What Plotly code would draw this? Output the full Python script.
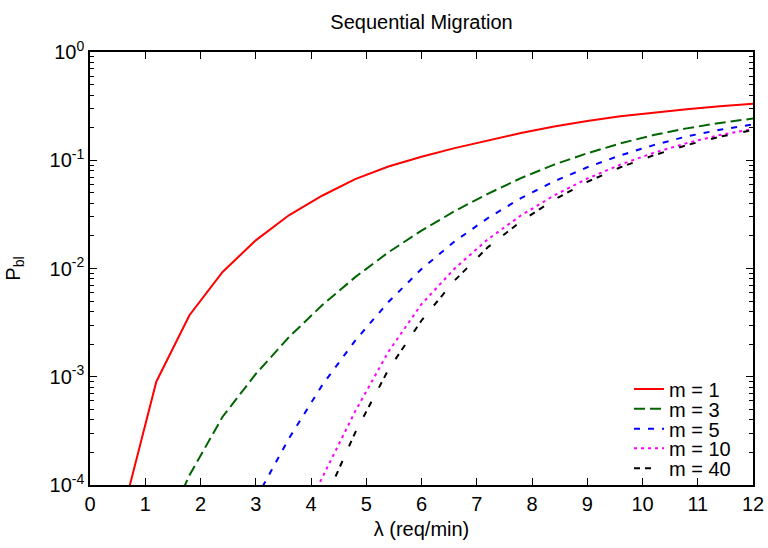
import plotly.graph_objects as go

# Arrival rate (req/min)
lam = [0.6, 1.2, 1.8, 2.4, 3.0, 3.6, 4.2, 4.8, 5.4, 6.0,
       6.6, 7.2, 7.8, 8.4, 9.0, 9.6, 10.2, 10.8, 11.4, 12.0]

# Blocking probability per number of migration slots m
p_m1 = [5.7e-5, 9.0e-4, 3.7e-3, 9.3e-3, 0.0182, 0.031, 0.047, 0.067, 0.0875, 0.1076,
        0.1294, 0.153, 0.1786, 0.205, 0.231, 0.2547, 0.2767, 0.2965, 0.3148, 0.3327]
p_m3 = [None, 2.6e-5, 1.23e-4, 4.27e-4, 1.06e-3, 2.32e-3, 4.57e-3, 8.32e-3, 0.0141, 0.0224,
        0.0339, 0.049, 0.0684, 0.0912, 0.116, 0.143, 0.171, 0.197, 0.221, 0.243]
p_m5 = [None, None, None, None, 7.41e-5, 2.69e-4, 8.32e-4, 2.16e-3, 4.90e-3, 9.89e-3,
        0.0178, 0.0292, 0.0447, 0.0638, 0.0861, 0.111, 0.138, 0.166, 0.191, 0.214]
p_m10 = [None, None, None, None, None, 2.82e-5, 1.15e-4, 4.79e-4, 1.70e-3, 4.68e-3,
         0.0100, 0.0186, 0.0309, 0.0473, 0.0676, 0.0912, 0.117, 0.144, 0.171, 0.194]
p_m40 = [None, None, None, None, None, None, 6.31e-5, 3.05e-4, 1.16e-3, 3.31e-3,
         7.76e-3, 0.0157, 0.0272, 0.0432, 0.0631, 0.0861, 0.111, 0.138, 0.165, 0.190]

series_names = ["m = 1", "m = 3", "m = 5", "m = 10", "m = 40"]
series_values = [p_m1, p_m3, p_m5, p_m10, p_m40]
series_colors = ["#ff0000", "#006400", "#0000ff", "#ff00ff", "#000000"]
series_dashes = ["solid", "11px,5px", "6px,8px", "3px,4px", "6px,5px,6px,16px"]

x_ticks = list(range(0, 13))
y_tickvals = [1e-4, 1e-3, 1e-2, 1e-1, 1e0]
y_ticktext = ["10<sup>-4</sup>", "10<sup>-3</sup>", "10<sup>-2</sup>",
              "10<sup>-1</sup>", "10<sup>0</sup>"]
y_minor = [k * 10.0 ** e for e in range(-4, 0) for k in range(2, 10)]

# legend rows (paper y of each entry centre)
legend_y = [0.2217, 0.1762, 0.130, 0.0848, 0.0386]

FONT = "Liberation Sans, Arial, Helvetica, sans-serif"

fig = go.Figure()
for i, (name, vals, col, dash) in enumerate(zip(series_names, series_values,
                                                 series_colors, series_dashes)):
    lg = "legend" if i == 0 else f"legend{i+1}"
    fig.add_trace(go.Scatter(
        x=lam, y=vals, mode="lines", name=name,
        line=dict(color=col, width=2, dash=dash),
        legend=lg,
    ))

legend_common = dict(x=0.813, xanchor="left", yanchor="middle",
                     bgcolor="rgba(0,0,0,0)", borderwidth=0,
                     font=dict(family=FONT, size=20, color="black"))
legend_layout = {}
for i, ly in enumerate(legend_y):
    key = "legend" if i == 0 else f"legend{i+1}"
    legend_layout[key] = dict(legend_common, y=ly)

fig.update_layout(
    width=768, height=548,
    margin=dict(l=90, r=15, t=52, b=63),
    paper_bgcolor="white", plot_bgcolor="white",
    font=dict(family=FONT, size=20, color="black"),
    title=dict(text="Sequential Migration", x=0.5, xref="paper", xanchor="center",
               y=1 - 22 / 548, yref="container", yanchor="middle",
               font=dict(family=FONT, size=20, color="black")),
    showlegend=True,
    **legend_layout,
)

fig.update_xaxes(
    range=[0, 12], tickmode="array", tickvals=x_ticks,
    ticks="inside", ticklen=7, tickwidth=1.2, tickcolor="black",
    showline=True, linecolor="black", linewidth=1.5, mirror="allticks",
    showgrid=False, zeroline=False, automargin=False,
    tickfont=dict(family=FONT, size=20),
    title=dict(text="λ (req/min)", font=dict(family=FONT, size=20), standoff=8),
)
fig.update_yaxes(
    type="log", range=[-4, 0], tickmode="array", tickvals=y_tickvals,
    ticktext=y_ticktext,
    ticks="inside", ticklen=7, tickwidth=1.2, tickcolor="black",
    minor=dict(tickmode="array", tickvals=y_minor, ticks="inside", ticklen=4,
               tickwidth=1, tickcolor="black", showgrid=False),
    showline=True, linecolor="black", linewidth=1.5, mirror="allticks",
    showgrid=False, zeroline=False, automargin=False,
    tickfont=dict(family=FONT, size=20),
    title=dict(text="P<sub>bl</sub>", font=dict(family=FONT, size=20), standoff=24),
)

fig.write_html("out.html",
               config={"displayModeBar": False},
               post_script="document.body.style.margin='0';document.body.style.overflow='hidden';")
